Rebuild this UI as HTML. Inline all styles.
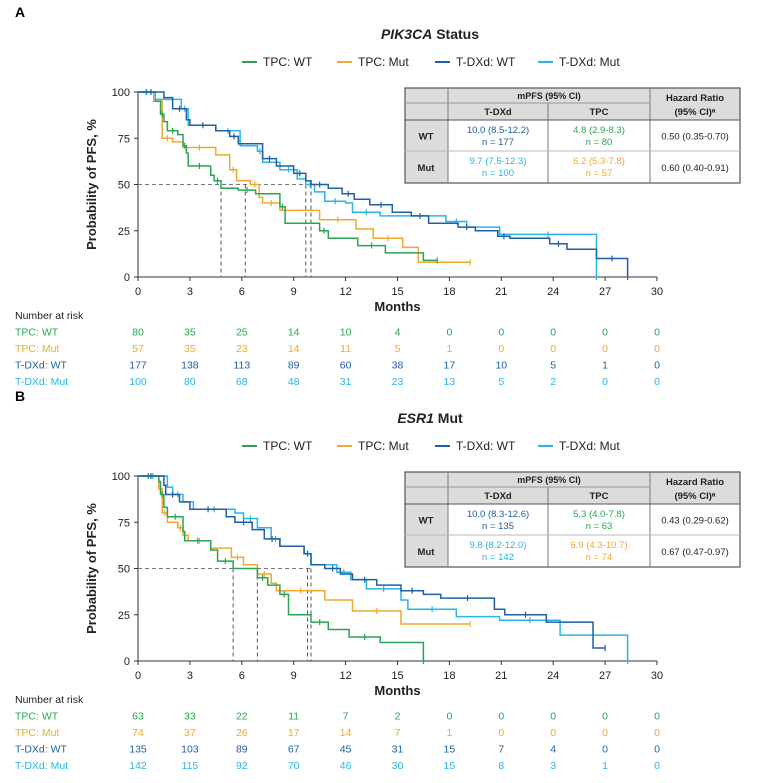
<!DOCTYPE html>
<html><head><meta charset="utf-8"><style>
body{margin:0;background:#fff;font-family:"Liberation Sans",sans-serif;}
svg text{font-family:"Liberation Sans",sans-serif;}
</style></head><body>
<svg id="s" width="783" height="778" xmlns="http://www.w3.org/2000/svg"></svg>
<script>
const S=document.getElementById('s');
const G='#2aa452',O='#f0a830',D='#1f5fa8',L='#29b5e8';
let h='';
function t(x,y,s,o){o=o||{};h+=`<text x="${x}" y="${y}" font-size="${o.fs||11}" fill="${o.c||'#222'}" text-anchor="${o.a||'middle'}" font-weight="${o.b?'bold':'normal'}" ${o.i?'font-style="italic"':''} ${o.tr?`transform="${o.tr}"`:''}>${s}</text>`;}
function ln(x1,y1,x2,y2,c,w,d){h+=`<line x1="${x1}" y1="${y1}" x2="${x2}" y2="${y2}" stroke="${c}" stroke-width="${w||1}" ${d?`stroke-dasharray="${d}"`:''}/>`;}
function panel(P){
 const X0=138,X1=657,Y100=P.y0,Y0=P.y0+185;
 const X=m=>X0+(X1-X0)*m/30, Y=p=>Y0-(Y0-Y100)*p/100;
 t(15,P.y0-75,P.lab,{fs:14,b:1,a:'start',c:'#000'});
 h+=`<text x="430" y="${P.y0-53}" font-size="14" font-weight="bold" text-anchor="middle" fill="#222"><tspan font-style="italic">${P.t1}</tspan> ${P.t2}</text>`;
 const ly=P.y0-30;
 P.leg.forEach(([x,c,s])=>{ln(x,ly,x+15,ly,c,2);t(x+21,ly+4,s,{a:'start',fs:12});});
 ln(X0,Y100,X0,Y0,'#333');ln(X0,Y0,X1,Y0,'#333');
 [0,25,50,75,100].forEach(p=>{ln(X0-4,Y(p),X0,Y(p),'#333');t(X0-8,Y(p)+4,p,{a:'end',fs:11});});
 for(let m=0;m<=30;m+=3){ln(X(m),Y0,X(m),Y0+4,'#333');t(X(m),Y0+18,m,{fs:11});}
 t(X(15),Y0+34,'Months',{fs:13,b:1});
 t(96,(Y100+Y0)/2,'Probability of PFS, %',{fs:13,b:1,tr:`rotate(-90 96 ${(Y100+Y0)/2})`});
 ln(X0,Y(50),X(P.med[3]),Y(50),'#777',1,'4 3');
 P.med.forEach(m=>ln(X(m),Y(50),X(m),Y0,'#555',1,'4 3'));
 P.curves.forEach(([c,pts,end])=>{
  let d=`M${X0} ${Y(100)}`;
  pts.forEach(([m,p])=>{d+=` H${X(m).toFixed(1)} V${Y(p).toFixed(1)}`;});
  d+=` H${X(end).toFixed(1)}`;
  h+=`<path d="${d}" fill="none" stroke="${c}" stroke-width="1.5"/>`;
  let prev=0,pv=100;
  pts.forEach(([m,p],i)=>{if(i%2==0){const cm=(prev+m)/2;ln(X(cm),Y(pv)-3,X(cm),Y(pv)+3,c,1.2);}prev=m;pv=p;});
  ln(X(end),Y(pv)-3,X(end),Y(pv)+3,c,1.2);
 });
 const tx=405,ty=P.y0-4;
 const y1=ty+15,y2=y1+17,y3=y2+31,y4=y3+32;
 h+=`<rect x="${tx}" y="${ty}" width="335" height="${y2-ty}" fill="#dcdcdc"/>`;
 h+=`<rect x="${tx}" y="${y2}" width="43" height="${y4-y2}" fill="#dcdcdc"/>`;
 h+=`<rect x="${tx}" y="${ty}" width="335" height="${y4-ty}" fill="none" stroke="#555" stroke-width="1.2"/>`;
 ln(448,ty,448,y4,'#777');ln(650,ty,650,y4,'#777');ln(548,y1,548,y4,'#777');
 ln(405,y1,448,y1,'#999');ln(448,y1,650,y1,'#999');ln(405,y2,740,y2,'#555');ln(405,y3,740,y3,'#bbb');
 t(549,y1-4,'mPFS (95% CI)',{fs:9,b:1});t(498,y2-5,'T-DXd',{fs:9.5,b:1});t(599,y2-5,'TPC',{fs:9.5,b:1});
 t(695,ty+13,'Hazard Ratio',{fs:9.5,b:1});t(695,ty+27,'(95% CI)ᵃ',{fs:9.5,b:1});
 t(426,(y2+y3)/2+4,'WT',{fs:9.5,b:1});t(426,(y3+y4)/2+4,'Mut',{fs:9.5,b:1});
 const T=P.tab;
 t(498,y2+13,T[0],{fs:9.5,c:D});t(498,y2+25,T[1],{fs:9.5,c:D});
 t(599,y2+13,T[2],{fs:9.5,c:G});t(599,y2+25,T[3],{fs:9.5,c:G});
 t(498,y3+13,T[4],{fs:9.5,c:L});t(498,y3+25,T[5],{fs:9.5,c:L});
 t(599,y3+13,T[6],{fs:9.5,c:O});t(599,y3+25,T[7],{fs:9.5,c:O});
 t(695,(y2+y3)/2+4,T[8],{fs:9.5});t(695,(y3+y4)/2+4,T[9],{fs:9.5});
 const ry=Y0+42;
 t(15,ry,'Number at risk',{fs:10.5,a:'start'});
 const names=['TPC: WT','TPC: Mut','T-DXd: WT','T-DXd: Mut'],cols=[G,O,D,L];
 P.risk.forEach((r,i)=>{const yy=ry+16.5*(i+1);t(15,yy,names[i],{fs:10.5,a:'start',c:cols[i]});
  r.forEach((v,j)=>t(X(j*3),yy,v,{fs:10.5,c:cols[i]}));});
}
const LEG=[[242,G,'TPC: WT'],[337,O,'TPC: Mut'],[435,D,'T-DXd: WT'],[538,L,'T-DXd: Mut']];
panel({y0:92,lab:'A',t1:'PIK3CA',t2:'Status',leg:LEG,
 med:[4.8,6.2,9.7,10.0],
 tab:['10.0 (8.5-12.2)','n = 177','4.8 (2.9-8.3)','n = 80','9.7 (7.5-12.3)','n = 100','6.2 (5.3-7.8)','n = 57','0.50 (0.35-0.70)','0.60 (0.40-0.91)'],
 curves:[
 [O,[[0.9,95],[1.4,75],[2.0,73],[2.6,70],[4.5,66],[5.3,58],[5.7,52],[6.5,50],[7.0,43],[7.2,40],[8.2,36],[10.5,31],[12.6,26],[13.6,21],[15.3,16],[16.2,8]],19.2],
 [G,[[1.0,95],[1.3,88],[1.5,84],[1.7,79],[2.3,77],[2.6,71],[2.8,67],[2.9,60],[4.2,55],[4.4,52],[4.8,48],[5.8,47],[6.8,45],[8.2,38],[8.5,29],[10.5,25],[11.0,21],[12.7,17],[14.3,13],[16.5,9]],17.3],
 [L,[[1.0,96],[2.5,91],[2.9,82],[4.5,79],[5.9,71],[6.9,68],[7.2,62],[8.2,58],[9.2,53],[9.7,50],[10.2,46],[10.8,41],[12.0,40],[12.4,35],[14.0,33],[17.8,30],[19.0,27],[20.9,23],[26.5,0]],26.5],
 [D,[[1.5,97],[2.0,91],[2.8,85],[3.0,82],[4.5,79],[5.3,76],[5.8,72],[7.2,64],[8.0,60],[9.0,56],[9.7,52],[10.0,50],[11.0,48],[11.8,45],[12.5,42],[13.4,39],[14.7,35],[15.8,33],[16.8,29],[18.5,27],[19.5,25],[20.8,22],[21.5,21],[23.8,18],[24.8,15],[26.5,10],[28.3,0]],28.3]],
 risk:[[80,35,25,14,10,4,0,0,0,0,0],[57,35,23,14,11,5,1,0,0,0,0],[177,138,113,89,60,38,17,10,5,1,0],[100,80,68,48,31,23,13,5,2,0,0]]});
panel({y0:476,lab:'B',t1:'ESR1',t2:'Mut',leg:LEG,
 med:[5.5,6.9,9.8,10.0],
 tab:['10.0 (8.3-12.6)','n = 135','5.3 (4.0-7.8)','n = 63','9.8 (8.2-12.0)','n = 142','6.9 (4.3-10.7)','n = 74','0.43 (0.29-0.62)','0.67 (0.47-0.97)'],
 curves:[
 [O,[[1.2,93],[1.4,80],[1.7,75],[2.3,72],[2.6,68],[2.9,65],[4.2,61],[5.4,56],[6.1,52],[6.9,47],[7.7,42],[8.0,38],[10.8,33],[12.4,27],[15.2,20]],19.2],
 [G,[[1.2,97],[1.3,90],[1.5,83],[1.7,78],[2.6,70],[2.7,65],[4.2,60],[4.6,54],[5.5,50],[6.9,45],[7.5,41],[8.2,36],[8.7,25],[10.0,21],[11.0,17],[12.2,13],[14.0,10],[16.5,0]],16.5],
 [L,[[1.7,94],[2.0,90],[2.6,86],[3.2,82],[5.6,80],[6.1,77],[6.9,72],[7.7,66],[8.2,62],[9.6,58],[10.0,52],[11.5,48],[12.3,44],[13.2,39],[15.2,33],[15.6,28],[18.4,24],[20.9,22],[24.4,14],[28.3,0]],28.3],
 [D,[[1.5,95],[1.6,90],[2.4,86],[3.0,82],[5.1,78],[5.6,75],[6.6,71],[7.3,66],[8.2,62],[9.6,58],[10.0,52],[10.8,50],[11.7,47],[12.4,44],[13.8,41],[15.2,38],[16.5,36],[17.5,34],[20.6,28],[21.2,25],[23.6,21],[26.3,7]],27.0]],
 risk:[[63,33,22,11,7,2,0,0,0,0,0],[74,37,26,17,14,7,1,0,0,0,0],[135,103,89,67,45,31,15,7,4,0,0],[142,115,92,70,46,30,15,8,3,1,0]]});
S.innerHTML=h;
</script>
</body></html>
